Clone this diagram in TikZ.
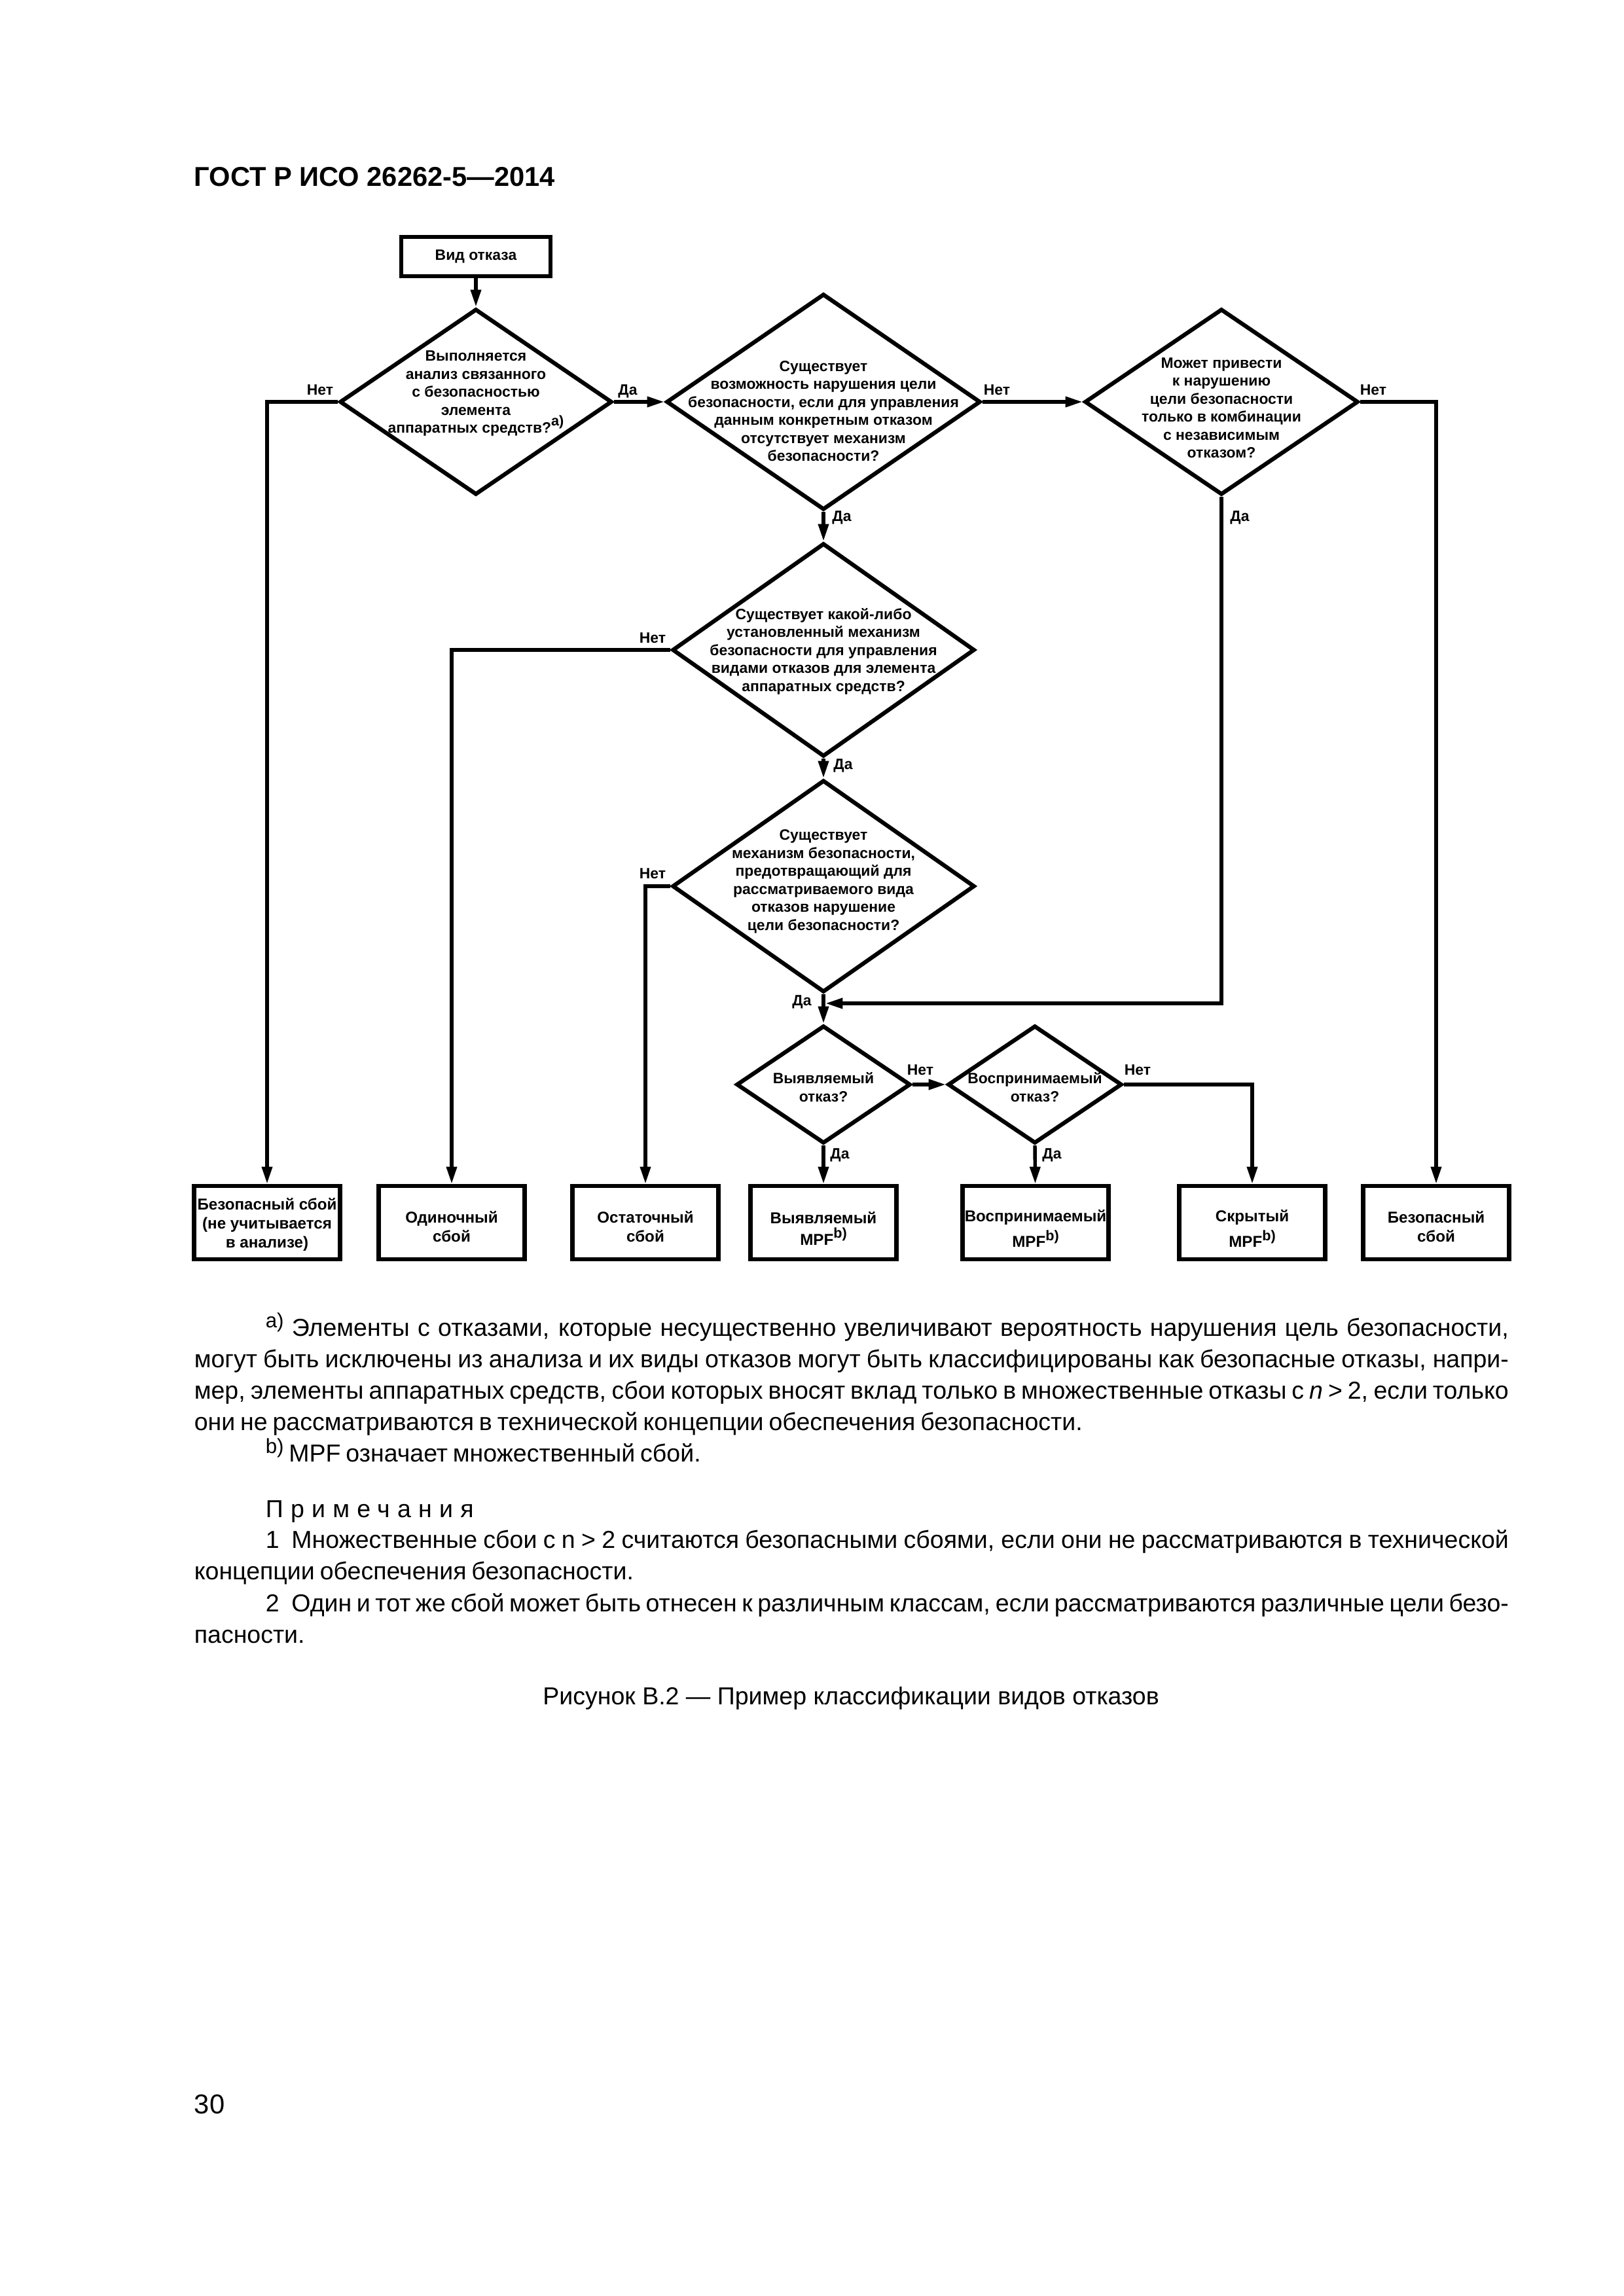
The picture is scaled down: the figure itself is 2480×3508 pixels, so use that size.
\documentclass[tikz,border=0pt]{standalone}
\usepackage{fontspec}
\setmainfont{Liberation Sans}
\usetikzlibrary{positioning,calc,arrows.meta,shapes.geometric}

\newlength{\px}
\setlength{\px}{0.24pt}
\newlength{\jw}
\setlength{\jw}{2008\px}
\newcommand{\tightsp}{\spaceskip=0.21em plus 0.3em minus 0.03em\relax}
\newcommand{\jline}[1]{\makebox[\jw][s]{\spaceskip=0.16em plus 0.4em minus 0.03em\relax #1}}
\newcommand{\fnmark}[1]{\raisebox{3pt}{\fontsize{7.5}{9}\selectfont #1}}
\newcommand{\bmark}[1]{\raisebox{2.6pt}{\fontsize{5.2}{6}\selectfont #1}}

\tikzset{
  shp/.style={draw, line width=1.5pt, inner sep=0pt},
  box/.style={shp, rectangle, minimum width=223\px, minimum height=112\px},
  dec/.style={shp, diamond},
  qtext/.style={inner sep=0pt, align=center, font=\fontsize{5.5}{6.6}\selectfont\bfseries},
  btext/.style={inner sep=0pt, align=center, font=\fontsize{5.8}{7}\selectfont\bfseries},
  lbl/.style={inner sep=0pt, anchor=base, font=\fontsize{5.5}{6.6}\selectfont\bfseries},
  para/.style={inner sep=0pt, anchor=base west, text width=\jw, align=left,
               font=\fontsize{9}{11.52}\selectfont, execute at begin node=\tightsp},
  conn/.style={line width=1.3pt, ->},
}

\begin{document}
\begin{tikzpicture}[x=0.24pt, y=-0.24pt, >={Triangle[length=6.3pt,width=3.7pt]}]
\useasboundingbox (0,0) rectangle (2480,3508);

\node[anchor=base west, inner sep=0pt, font=\fontsize{10}{12}\selectfont\bfseries]
  (head) at (296,285) {ГОСТ Р ИСО 26262-5—2014};

% start box
\node[box, minimum width=228\px, minimum height=60\px, qtext] (start) at (727,392) {Вид отказа};

% decisions
\node[dec, minimum width=416\px, minimum height=284\px] (d1) at (727,614) {};
\node[dec, minimum width=480\px, minimum height=330\px] (d2) at (1258,614) {};
\node[dec, minimum width=418\px, minimum height=284\px] (d3) at (1866,614) {};
\node[dec, minimum width=462\px, minimum height=326\px] (d4) at (1258,993) {};
\node[dec, minimum width=462\px, minimum height=324\px] (d5) at (1258,1354) {};
\node[dec, minimum width=266\px, minimum height=180\px] (d6) at (1258,1657) {};
\node[dec, minimum width=266\px, minimum height=180\px] (d7) at (1581,1657) {};

\node[qtext] (t1) at (727,601) {Выполняется\\анализ связанного\\с безопасностью\\элемента\\аппаратных средств?\bmark{a)}};
\node[qtext] (t2) at (1258,628) {Существует\\возможность нарушения цели\\безопасности, если для управления\\данным конкретным отказом\\отсутствует механизм\\безопасности?};
\node[qtext] (t3) at (1866,623) {Может привести\\к нарушению\\цели безопасности\\только в комбинации\\с независимым\\отказом?};
\node[qtext] (t4) at (1258,995) {Существует какой-либо\\установленный механизм\\безопасности для управления\\видами отказов для элемента\\аппаратных средств?};
\node[qtext] (t5) at (1258,1347) {Существует\\механизм безопасности,\\предотвращающий для\\рассматриваемого вида\\отказов нарушение\\цели безопасности?};
\node[qtext] (t6) at (1258,1661) {Выявляемый\\отказ?};
\node[qtext] (t7) at (1581,1661) {Воспринимаемый\\отказ?};

% results
\node[box] (b1) at (408,1868) {};
\node[box] (b2) at (690,1868) {};
\node[box] (b3) at (986,1868) {};
\node[box] (b4) at (1258,1868) {};
\node[box] (b5) at (1582,1868) {};
\node[box] (b6) at (1913,1868) {};
\node[box] (b7) at (2194,1868) {};

\node[btext] (r1) at (408,1871) {Безопасный сбой\\(не учитывается\\в анализе)};
\node[btext] (r2) at (690,1874) {Одиночный\\сбой};
\node[btext] (r3) at (986,1874) {Остаточный\\сбой};
\node[btext] (r4) at (1258,1877) {Выявляемый\\[1pt]MPF\bmark{b)}};
\node[btext] (r5) at (1582,1877) {Воспринимаемый\\[1pt]MPF\bmark{b)}};
\node[btext] (r6) at (1913,1877) {Скрытый\\[1pt]MPF\bmark{b)}};
\node[btext] (r7) at (2194,1874) {Безопасный\\сбой};

% connectors
\coordinate (mrg) at (1261,1533);
\draw[conn] (start) -- (d1);
\draw[conn] (d1.west) -| (b1);
\draw[conn] (d1.east) -- (d2.west);
\draw[conn] (d2.east) -- (d3.west);
\draw[conn] (d3.east) -| (b7);
\draw[conn] (d2.south) -- (d4.north);
\draw[conn] (d4.west) -| (b2);
\draw[conn] (d4.south) -- (d5.north);
\draw[conn] (d5.west) -| (b3);
\draw[conn] (d5.south) -- (d6.north);
\draw[conn] (d3.south) |- (mrg);
\draw[conn] (d6.east) -- (d7.west);
\draw[conn] (d6.south) -- (b4);
\draw[conn] (d7.south) -- (b5);
\draw[conn] (d7.east) -| (b6);

% yes / no
\node[lbl] (l1) at (489,604) {Нет};
\node[lbl] (l2) at (959,604) {Да};
\node[lbl] (l3) at (1523,604) {Нет};
\node[lbl] (l4) at (2098,604) {Нет};
\node[lbl] (l5) at (1286,797) {Да};
\node[lbl] (l6) at (1894,797) {Да};
\node[lbl] (l7) at (997,982) {Нет};
\node[lbl] (l8) at (1288,1175) {Да};
\node[lbl] (l9) at (997,1342) {Нет};
\node[lbl] (l10) at (1225,1536) {Да};
\node[lbl] (l11) at (1406,1642) {Нет};
\node[lbl] (l12) at (1738,1642) {Нет};
\node[lbl] (l13) at (1283,1770) {Да};
\node[lbl] (l14) at (1607,1770) {Да};

% notes below the figure
\node[para] (fna) at (296,2041) {%
  \jline{\hspace*{109\px}\fnmark{a)} Элементы с отказами, которые несущественно увеличивают вероятность нарушения цель безопасности,}\\
  \jline{могут быть исключены из анализа и их виды отказов могут быть классифицированы как безопасные отказы, напри-}\\
  \jline{мер, элементы аппаратных средств, сбои которых вносят вклад только в множественные отказы с \textit{n} > 2, если только}\\
  они не рассматриваются в технической концепции обеспечения безопасности.};
\node[para] (fnb) at (296,2233) {\hspace*{109\px}\fnmark{b)} MPF означает множественный сбой.};
\node[para] (ntitle) at (296,2318) {\hspace*{109\px}\addfontfeature{LetterSpace=30}Примечания};
\node[para] (note1) at (296,2365) {%
  \jline{\hspace*{109\px}1\enskip Множественные сбои с n > 2 считаются безопасными сбоями, если они не рассматриваются в технической}\\
  концепции обеспечения безопасности.};
\node[para] (note2) at (296,2462) {%
  \jline{\hspace*{109\px}2\enskip Один и тот же сбой может быть отнесен к различным классам, если рассматриваются различные цели безо-}\\
  пасности.};
\node[anchor=base, inner sep=0pt, font=\fontsize{9}{11.52}\selectfont] (cap) at (1300,2604)
  {Рисунок В.2 — Пример классификации видов отказов};

\node[anchor=base west, inner sep=0pt, font=\fontsize{10}{12}\selectfont] (pnum) at (296,3229) {30};
\end{tikzpicture}
\end{document}
